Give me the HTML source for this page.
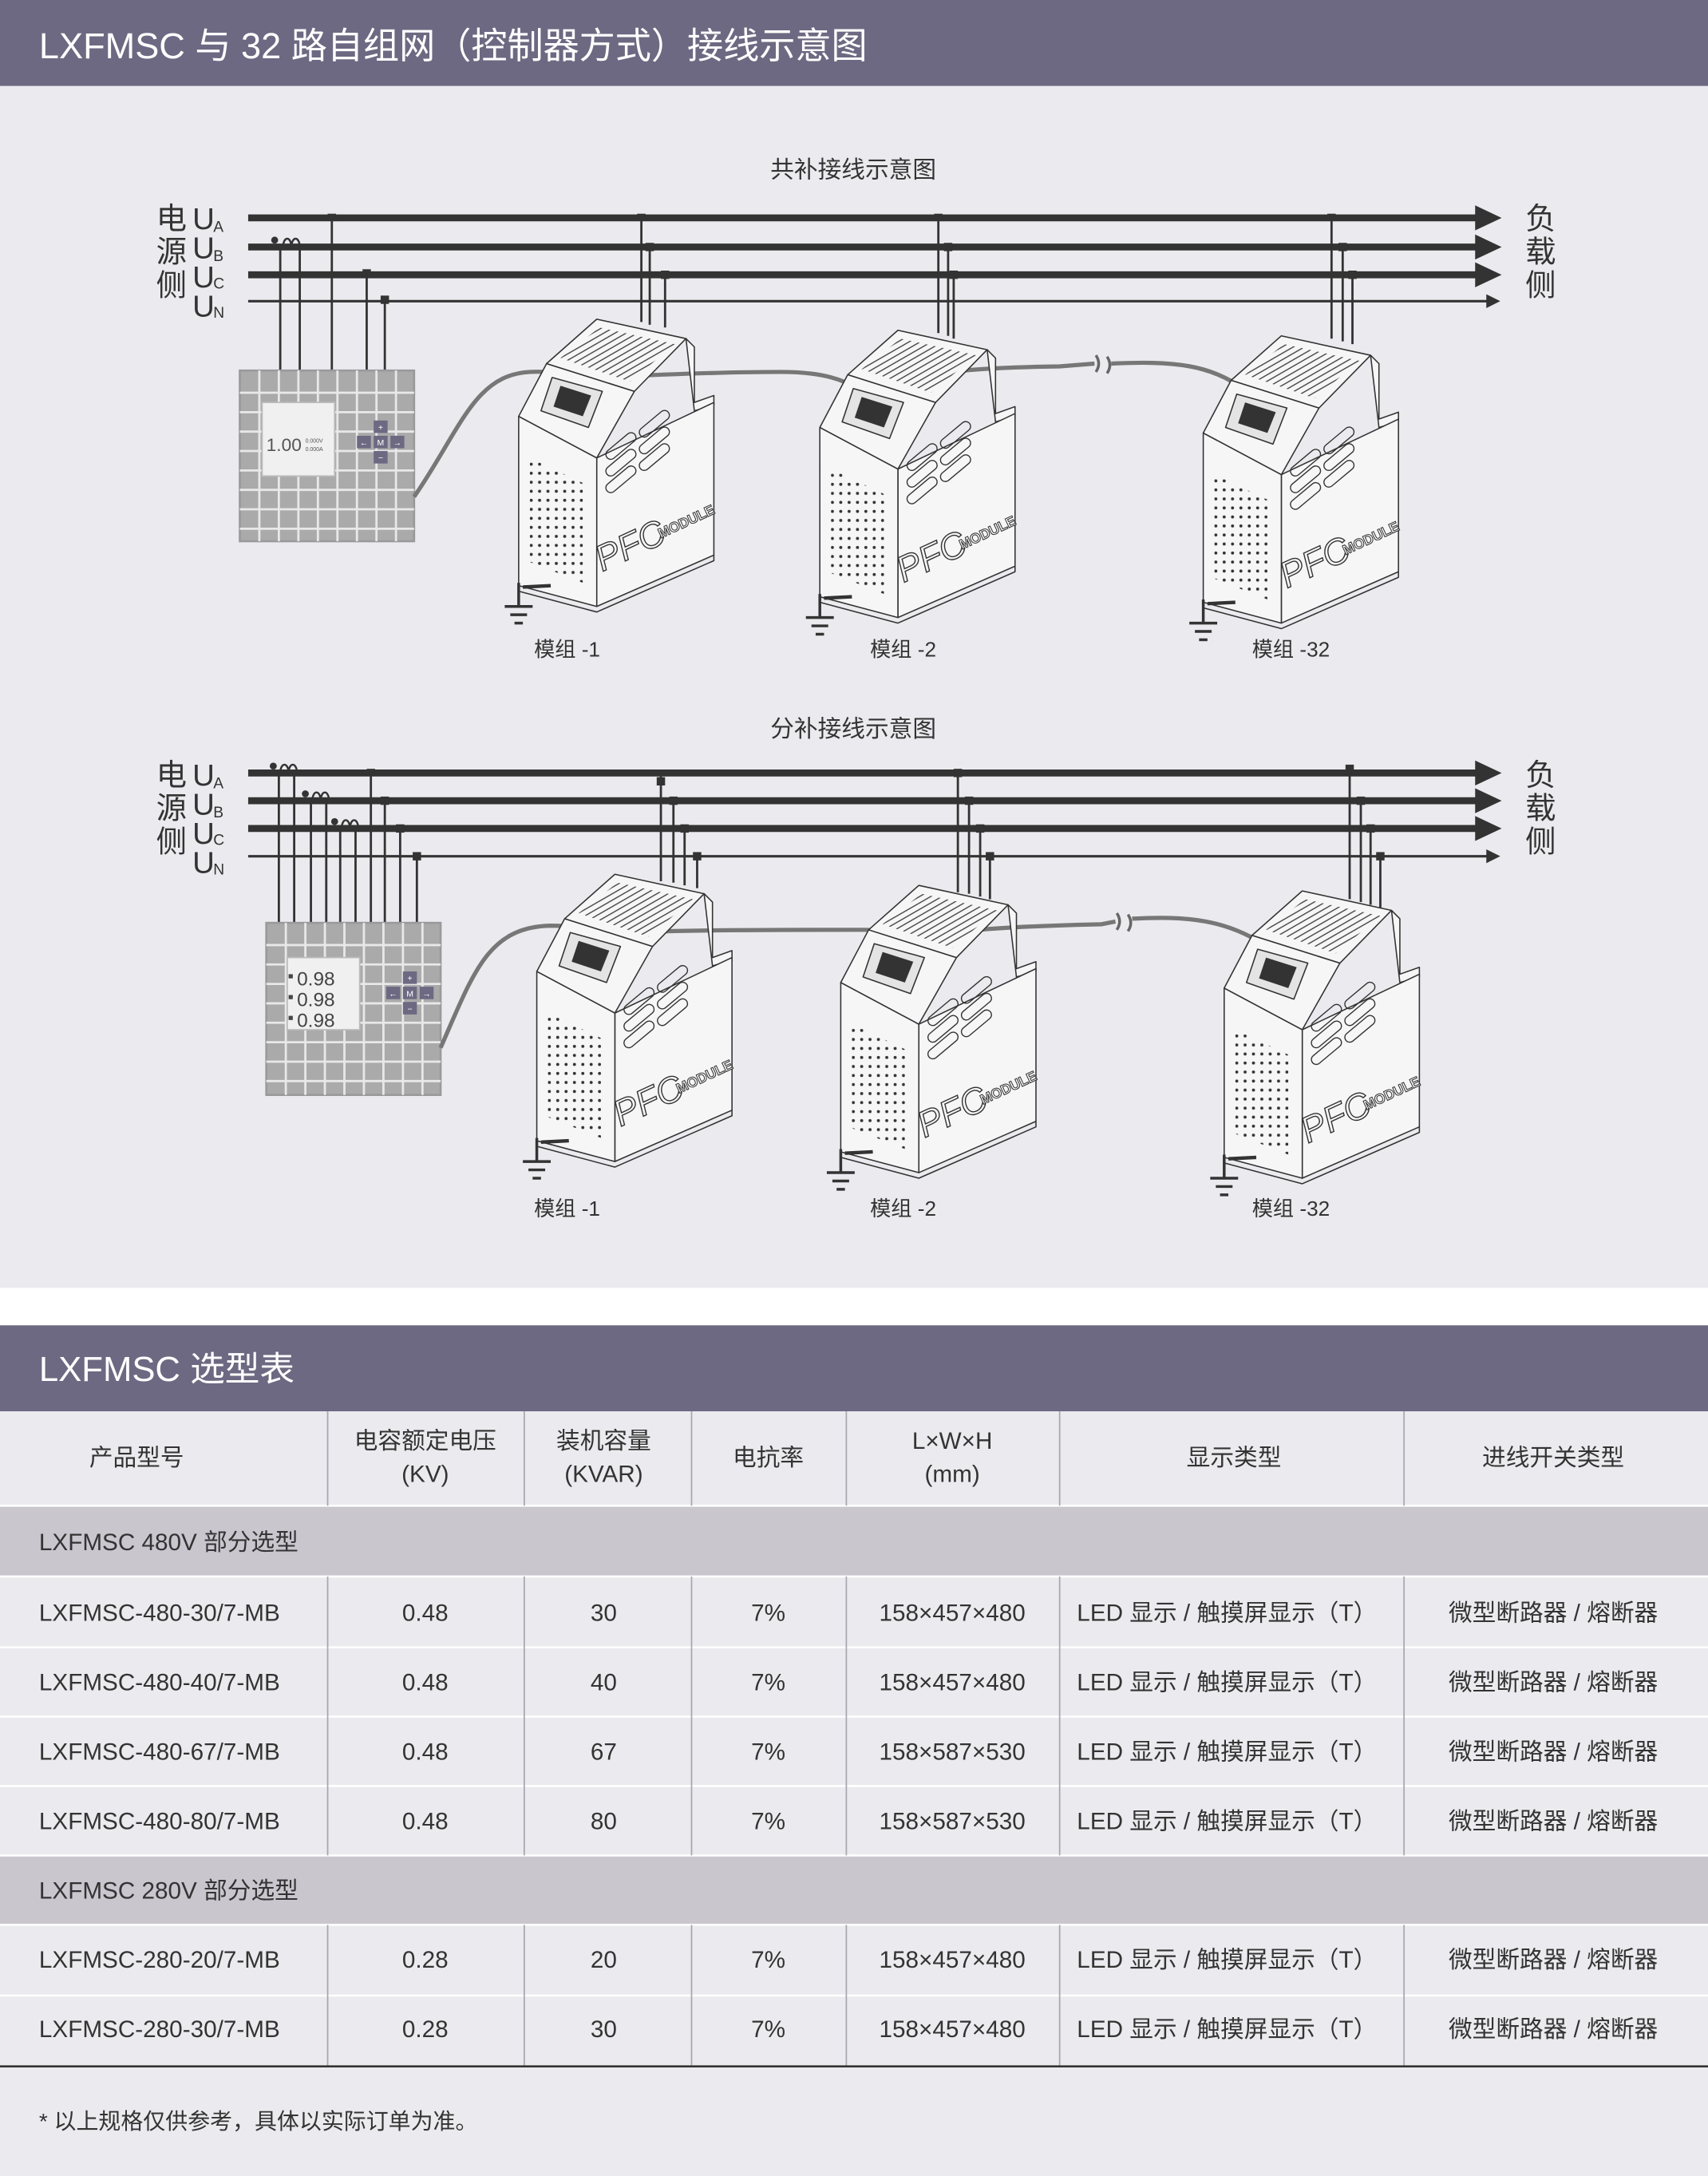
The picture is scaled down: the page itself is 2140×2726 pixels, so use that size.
<!DOCTYPE html>
<html><head><meta charset="utf-8"><style>
html,body{margin:0;padding:0;background:#fff;}
svg{display:block;}
text{font-family:"Liberation Sans","Noto Sans CJK SC",sans-serif;}
</style></head><body>
<svg width="2140" height="2726" viewBox="0 0 1225 1568" preserveAspectRatio="none" xmlns="http://www.w3.org/2000/svg">
<defs>
<pattern id="dots" width="6" height="6.5" patternUnits="userSpaceOnUse"><circle cx="3" cy="3" r="1.1" fill="#333"/></pattern>
<pattern id="hatch" width="4" height="4" patternUnits="userSpaceOnUse" patternTransform="rotate(60)"><line x1="0" y1="0" x2="0" y2="4" stroke="#444" stroke-width="1.6"/></pattern>
<g id="mod" stroke="#333" stroke-width="0.9" fill="#f6f6f7" stroke-linejoin="round">
  <path d="M492,244 L498,250 L498,290 L512,285 L512,292 L498,296 Z"/>
  <path d="M428,330 L512,290 L512,400 L428,437 Z"/>
  <path d="M372,300 L428,330 L428,437 L372,422 Z"/>
  <path d="M380,330 L418,348 L418,420 L380,405 Z" fill="url(#dots)" stroke="none"/>
  <path d="M372,300 L392,262 L455,282 L428,330 Z"/>
  <path d="M392,262 L428,230 L492,244 L455,282 Z"/>
  <path d="M402,258 L430,236 L484,248 L452,275 Z" fill="url(#hatch)" stroke="none"/>
  <path d="M396,272 L432,282 L422,308 L388,296 Z" fill="#e4e4e4"/>
  <path d="M402,278 L424,285 L418,300 L397,293 Z" fill="#333" stroke="none"/>
  <path d="M372,422 L372,426 L428,441 L512,404 L512,400" fill="none"/>
  <g fill="none" stroke="#333" stroke-width="0.8">
   <rect x="432" y="318" width="26" height="7" rx="3.5" transform="rotate(-40 445 321)"/>
   <rect x="432" y="330" width="26" height="7" rx="3.5" transform="rotate(-40 445 333)"/>
   <rect x="432" y="342" width="26" height="7" rx="3.5" transform="rotate(-40 445 345)"/>
   <rect x="456" y="302" width="26" height="7" rx="3.5" transform="rotate(-40 469 305)"/>
   <rect x="456" y="314" width="26" height="7" rx="3.5" transform="rotate(-40 469 317)"/>
   <rect x="456" y="326" width="26" height="7" rx="3.5" transform="rotate(-40 469 329)"/>
  </g>
  <line x1="375" y1="423" x2="395" y2="422" stroke-width="2.5"/>
</g>
<g id="gnd" stroke="#333" fill="none">
  <line x1="372" y1="420" x2="372" y2="437" stroke-width="2"/>
  <line x1="362" y1="437" x2="382" y2="437" stroke-width="2"/>
  <line x1="366" y1="443" x2="378" y2="443" stroke-width="2"/>
  <line x1="369" y1="449" x2="375" y2="449" stroke-width="2"/>
</g>
</defs>

<rect x="0" y="0" width="1225" height="62" fill="#6e6982"/>
<rect x="0" y="62" width="1225" height="866" fill="#ebeaee"/>
<text x="28" y="42" font-size="26" fill="#fff" textLength="594" lengthAdjust="spacingAndGlyphs">LXFMSC 与 32 路自组网（控制器方式）接线示意图</text>

<text x="612" y="128" font-size="17" fill="#333" text-anchor="middle">共补接线示意图</text>
<g fill="#333" font-size="22">
<text x="112" y="165">电</text><text x="112" y="189">源</text><text x="112" y="213">侧</text>
<text x="1094" y="165">负</text><text x="1094" y="189">载</text><text x="1094" y="213">侧</text>
<text x="138" y="165">U</text><text x="138" y="186">U</text><text x="138" y="207">U</text><text x="138" y="228">U</text>
</g>
<g fill="#333" font-size="11"><text x="153" y="167">A</text><text x="153" y="188">B</text><text x="153" y="208">C</text><text x="153" y="229">N</text></g>
<g stroke="#333">
<line x1="178" y1="157" x2="1062" y2="157" stroke-width="5"/>
<line x1="178" y1="178" x2="1062" y2="178" stroke-width="5"/>
<line x1="178" y1="198" x2="1062" y2="198" stroke-width="5"/>
<line x1="178" y1="217" x2="1068" y2="217" stroke-width="1.8"/>
</g>
<g fill="#333">
<polygon points="1058,148 1077,157 1058,166"/><polygon points="1058,169 1077,178 1058,187"/><polygon points="1058,189 1077,198 1058,207"/><polygon points="1066,212 1076,217 1066,222"/>
</g>
<g stroke="#333" stroke-width="1.6" fill="none">
<line x1="201" y1="178" x2="201" y2="267"/><line x1="215" y1="178" x2="215" y2="267"/>
<path d="M203,178 a3,6 0 0 1 6,0 a3,6 0 0 1 6,0" stroke-width="1.4"/>
<line x1="238" y1="157" x2="238" y2="267"/><line x1="263" y1="198" x2="263" y2="267"/><line x1="276" y1="217" x2="276" y2="267"/>
</g>
<circle cx="197" cy="173" r="2.5" fill="#333"/>
<g fill="#333"><rect x="235" y="154" width="6" height="5"/><rect x="260" y="194" width="6" height="6"/><rect x="273" y="213" width="6" height="6"/></g>
<g stroke="#333" stroke-width="1.6">
<line x1="460" y1="157" x2="460" y2="232"/><line x1="466" y1="178" x2="466" y2="234"/><line x1="477" y1="198" x2="477" y2="236"/>
<line x1="673" y1="157" x2="673" y2="240"/><line x1="680" y1="178" x2="680" y2="242"/><line x1="684" y1="198" x2="684" y2="244"/>
<line x1="955" y1="157" x2="955" y2="244"/><line x1="963" y1="178" x2="963" y2="246"/><line x1="970" y1="198" x2="970" y2="248"/>
</g>
<g fill="#333"><rect x="457" y="154" width="6" height="5"/><rect x="463" y="175" width="6" height="6"/><rect x="474" y="195" width="6" height="6"/>
<rect x="670" y="154" width="6" height="5"/><rect x="677" y="175" width="6" height="6"/><rect x="681" y="195" width="6" height="6"/>
<rect x="952" y="154" width="6" height="5"/><rect x="960" y="175" width="6" height="6"/><rect x="967" y="195" width="6" height="6"/></g>
<g>
<rect x="172" y="267" width="125" height="123" fill="#aaa" stroke="#999" stroke-width="1.5"/>
<g stroke="#e8e8e8" stroke-width="1.6">
<line x1="172" y1="283" x2="297" y2="283"/><line x1="172" y1="297" x2="297" y2="297"/><line x1="172" y1="311" x2="297" y2="311"/><line x1="172" y1="325" x2="297" y2="325"/><line x1="172" y1="339" x2="297" y2="339"/><line x1="172" y1="353" x2="297" y2="353"/><line x1="172" y1="367" x2="297" y2="367"/><line x1="172" y1="381" x2="297" y2="381"/>
<line x1="186" y1="267" x2="186" y2="390"/><line x1="200" y1="267" x2="200" y2="390"/><line x1="214" y1="267" x2="214" y2="390"/><line x1="228" y1="267" x2="228" y2="390"/><line x1="242" y1="267" x2="242" y2="390"/><line x1="256" y1="267" x2="256" y2="390"/><line x1="270" y1="267" x2="270" y2="390"/><line x1="284" y1="267" x2="284" y2="390"/>
</g>
<rect x="188" y="290" width="52" height="53" fill="#f0f0f0" stroke="#bbb"/>
<text x="191" y="325" font-size="13" fill="#555">1.00</text>
<text x="219" y="319" font-size="4" fill="#555">0.000V</text><text x="219" y="325" font-size="4" fill="#555">0.000A</text>
<g fill="#6e6982"><rect x="268" y="303" width="10" height="9"/><rect x="256" y="314" width="10" height="9"/><rect x="268" y="314" width="10" height="9"/><rect x="280" y="314" width="10" height="9"/><rect x="268" y="325" width="10" height="9"/></g>
<g fill="#fff" font-size="6" text-anchor="middle"><text x="273" y="310">+</text><text x="261" y="321">←</text><text x="273" y="321">M</text><text x="285" y="321">→</text><text x="273" y="332">−</text></g>
</g>
<path d="M297,358 C330,310 340,270 380,268 C400,267 410,272 430,272 C470,270 520,268 560,268 C600,268 610,278 620,282 C640,272 680,265 760,264 L785,262 M797,262 C840,260 870,262 895,283" fill="none" stroke="#777" stroke-width="3"/>
<path d="M786,256 q4,6 0,12 M794,257 q4,6 0,12" fill="none" stroke="#666" stroke-width="2"/>
<use href="#mod"/><use href="#gnd"/>
<use href="#mod" transform="translate(216,8)"/><use href="#gnd" transform="translate(216,8)"/>
<use href="#mod" transform="translate(491,12)"/><use href="#gnd" transform="translate(491,12)"/>
<g font-size="26" fill="none" stroke="#333" stroke-width="0.8" font-style="italic">
<text transform="translate(432,412) rotate(-25)">PFC</text>
<text transform="translate(648,420) rotate(-25)">PFC</text>
<text transform="translate(923,424) rotate(-25)">PFC</text>
</g>
<g font-size="10" fill="#fff" stroke="#333" stroke-width="0.6" font-weight="bold">
<text transform="translate(474,388) rotate(-25)">MODULE</text>
<text transform="translate(690,396) rotate(-25)">MODULE</text>
<text transform="translate(965,400) rotate(-25)">MODULE</text>
</g>
<g font-size="15" fill="#333">
<text x="383" y="473">模组 -1</text><text x="624" y="473">模组 -2</text><text x="898" y="473">模组 -32</text>
</g>

<text x="612" y="531" font-size="17" fill="#333" text-anchor="middle">分补接线示意图</text>
<g fill="#333" font-size="22">
<text x="112" y="566">电</text><text x="112" y="590">源</text><text x="112" y="614">侧</text>
<text x="1094" y="566">负</text><text x="1094" y="590">载</text><text x="1094" y="614">侧</text>
<text x="138" y="566">U</text><text x="138" y="587">U</text><text x="138" y="608">U</text><text x="138" y="629">U</text>
</g>
<g fill="#333" font-size="11"><text x="153" y="568">A</text><text x="153" y="589">B</text><text x="153" y="609">C</text><text x="153" y="630">N</text></g>
<g stroke="#333">
<line x1="178" y1="557" x2="1062" y2="557" stroke-width="5"/>
<line x1="178" y1="577" x2="1062" y2="577" stroke-width="5"/>
<line x1="178" y1="597" x2="1062" y2="597" stroke-width="5"/>
<line x1="178" y1="617" x2="1068" y2="617" stroke-width="1.8"/>
</g>
<g fill="#333">
<polygon points="1058,548 1077,557 1058,566"/><polygon points="1058,568 1077,577 1058,586"/><polygon points="1058,588 1077,597 1058,606"/><polygon points="1066,612 1076,617 1066,622"/>
</g>
<g stroke="#333" stroke-width="1.6" fill="none">
<line x1="200" y1="557" x2="200" y2="665"/><line x1="211" y1="557" x2="211" y2="665"/>
<line x1="223" y1="577" x2="223" y2="665"/><line x1="234" y1="577" x2="234" y2="665"/>
<line x1="244" y1="597" x2="244" y2="665"/><line x1="255" y1="597" x2="255" y2="665"/>
<line x1="266" y1="557" x2="266" y2="665"/><line x1="276" y1="577" x2="276" y2="665"/><line x1="287" y1="597" x2="287" y2="665"/><line x1="299" y1="617" x2="299" y2="665"/>
<path d="M201,557 a3,6 0 0 1 6,0 a3,6 0 0 1 6,0" stroke-width="1.4"/>
<path d="M224,577 a3,6 0 0 1 6,0 a3,6 0 0 1 6,0" stroke-width="1.4"/>
<path d="M245,597 a3,6 0 0 1 6,0 a3,6 0 0 1 6,0" stroke-width="1.4"/>
</g>
<g fill="#333"><circle cx="196" cy="552" r="2.5"/><circle cx="219" cy="572" r="2.5"/><circle cx="240" cy="592" r="2.5"/>
<rect x="263" y="554" width="6" height="5"/><rect x="273" y="574" width="6" height="6"/><rect x="284" y="594" width="6" height="6"/><rect x="296" y="614" width="6" height="6"/></g>
<g stroke="#333" stroke-width="1.6">
<line x1="474" y1="557" x2="474" y2="635"/><line x1="483" y1="577" x2="483" y2="636"/><line x1="491" y1="597" x2="491" y2="638"/><line x1="500" y1="617" x2="500" y2="640"/>
<line x1="687" y1="557" x2="687" y2="643"/><line x1="695" y1="577" x2="695" y2="644"/><line x1="703" y1="597" x2="703" y2="646"/><line x1="710" y1="617" x2="710" y2="648"/>
<line x1="968" y1="557" x2="968" y2="648"/><line x1="976" y1="577" x2="976" y2="650"/><line x1="983" y1="597" x2="983" y2="652"/><line x1="990" y1="617" x2="990" y2="654"/>
</g>
<g fill="#333"><rect x="471" y="560" width="6" height="6"/><rect x="480" y="574" width="6" height="6"/><rect x="488" y="594" width="6" height="6"/><rect x="497" y="614" width="6" height="6"/>
<rect x="684" y="554" width="6" height="6"/><rect x="692" y="574" width="6" height="6"/><rect x="700" y="594" width="6" height="6"/><rect x="707" y="614" width="6" height="6"/>
<rect x="965" y="551" width="6" height="6"/><rect x="973" y="574" width="6" height="6"/><rect x="980" y="594" width="6" height="6"/><rect x="987" y="614" width="6" height="6"/></g>
<g>
<rect x="191" y="665" width="125" height="124" fill="#aaa" stroke="#999" stroke-width="1.5"/>
<g stroke="#e8e8e8" stroke-width="1.6">
<line x1="191" y1="681" x2="316" y2="681"/><line x1="191" y1="695" x2="316" y2="695"/><line x1="191" y1="709" x2="316" y2="709"/><line x1="191" y1="723" x2="316" y2="723"/><line x1="191" y1="737" x2="316" y2="737"/><line x1="191" y1="751" x2="316" y2="751"/><line x1="191" y1="765" x2="316" y2="765"/><line x1="191" y1="779" x2="316" y2="779"/>
<line x1="205" y1="665" x2="205" y2="789"/><line x1="219" y1="665" x2="219" y2="789"/><line x1="233" y1="665" x2="233" y2="789"/><line x1="247" y1="665" x2="247" y2="789"/><line x1="261" y1="665" x2="261" y2="789"/><line x1="275" y1="665" x2="275" y2="789"/><line x1="289" y1="665" x2="289" y2="789"/><line x1="303" y1="665" x2="303" y2="789"/>
</g>
<rect x="206" y="690" width="52" height="52" fill="#f0f0f0" stroke="#bbb"/>
<g font-size="14" fill="#444"><text x="213" y="710">0.98</text><text x="213" y="725">0.98</text><text x="213" y="740">0.98</text></g>
<g fill="#444"><rect x="207" y="702" width="3" height="3"/><rect x="207" y="717" width="3" height="3"/><rect x="207" y="732" width="3" height="3"/></g>
<g fill="#6e6982"><rect x="289" y="700" width="10" height="9"/><rect x="277" y="711" width="10" height="9"/><rect x="289" y="711" width="10" height="9"/><rect x="301" y="711" width="10" height="9"/><rect x="289" y="722" width="10" height="9"/></g>
<g fill="#fff" font-size="6" text-anchor="middle"><text x="294" y="707">+</text><text x="282" y="718">←</text><text x="294" y="718">M</text><text x="306" y="718">→</text><text x="294" y="729">−</text></g>
</g>
<path d="M316,755 C340,700 350,668 395,667 C420,667 425,672 445,672 C500,670 560,670 620,670 C640,670 650,676 655,680 C670,672 700,668 790,666 L800,664 M812,662 C850,660 880,662 910,683" fill="none" stroke="#777" stroke-width="3"/>
<path d="M801,658 q4,6 0,12 M809,659 q4,6 0,12" fill="none" stroke="#666" stroke-width="2"/>
<use href="#mod" transform="translate(13,400)"/><use href="#gnd" transform="translate(13,400)"/>
<use href="#mod" transform="translate(231,408)"/><use href="#gnd" transform="translate(231,408)"/>
<use href="#mod" transform="translate(506,412)"/><use href="#gnd" transform="translate(506,412)"/>
<g font-size="26" fill="none" stroke="#333" stroke-width="0.8" font-style="italic">
<text transform="translate(445,812) rotate(-25)">PFC</text>
<text transform="translate(663,820) rotate(-25)">PFC</text>
<text transform="translate(938,824) rotate(-25)">PFC</text>
</g>
<g font-size="10" fill="#fff" stroke="#333" stroke-width="0.6" font-weight="bold">
<text transform="translate(487,788) rotate(-25)">MODULE</text>
<text transform="translate(705,796) rotate(-25)">MODULE</text>
<text transform="translate(980,800) rotate(-25)">MODULE</text>
</g>
<g font-size="15" fill="#333">
<text x="383" y="876">模组 -1</text><text x="624" y="876">模组 -2</text><text x="898" y="876">模组 -32</text>
</g>

<rect x="0" y="955" width="1225" height="62" fill="#6e6982"/>
<text x="28" y="995" font-size="25" fill="#fff">LXFMSC 选型表</text>
<rect x="0" y="1017" width="1225" height="551" fill="#ebeaee"/>
<rect x="0" y="1085" width="1225" height="51" fill="#c9c6ce"/>
<rect x="0" y="1337" width="1225" height="50" fill="#c9c6ce"/>
<g stroke="#fff" stroke-width="1.5">
<line x1="0" y1="1085" x2="1225" y2="1085"/><line x1="0" y1="1136" x2="1225" y2="1136"/><line x1="0" y1="1187" x2="1225" y2="1187"/><line x1="0" y1="1237" x2="1225" y2="1237"/><line x1="0" y1="1287" x2="1225" y2="1287"/><line x1="0" y1="1337" x2="1225" y2="1337"/><line x1="0" y1="1387" x2="1225" y2="1387"/><line x1="0" y1="1438" x2="1225" y2="1438"/>
</g>
<g stroke="#a9a6b0" stroke-width="1">
<line x1="235" y1="1017" x2="235" y2="1085"/><line x1="376" y1="1017" x2="376" y2="1085"/><line x1="496" y1="1017" x2="496" y2="1085"/><line x1="607" y1="1017" x2="607" y2="1085"/><line x1="760" y1="1017" x2="760" y2="1085"/><line x1="1007" y1="1017" x2="1007" y2="1085"/>
<line x1="235" y1="1136" x2="235" y2="1337"/><line x1="376" y1="1136" x2="376" y2="1337"/><line x1="496" y1="1136" x2="496" y2="1337"/><line x1="607" y1="1136" x2="607" y2="1337"/><line x1="760" y1="1136" x2="760" y2="1337"/><line x1="1007" y1="1136" x2="1007" y2="1337"/>
<line x1="235" y1="1387" x2="235" y2="1489"/><line x1="376" y1="1387" x2="376" y2="1489"/><line x1="496" y1="1387" x2="496" y2="1489"/><line x1="607" y1="1387" x2="607" y2="1489"/><line x1="760" y1="1387" x2="760" y2="1489"/><line x1="1007" y1="1387" x2="1007" y2="1489"/>
</g>
<line x1="0" y1="1489" x2="1225" y2="1489" stroke="#333" stroke-width="1.5"/>
<g font-size="17" fill="#333" text-anchor="middle">
<text x="98" y="1056">产品型号</text>
<text x="305" y="1044">电容额定电压</text><text x="305" y="1068">(KV)</text>
<text x="433" y="1044">装机容量</text><text x="433" y="1068">(KVAR)</text>
<text x="551" y="1056">电抗率</text>
<text x="683" y="1044">L×W×H</text><text x="683" y="1068">(mm)</text>
<text x="885" y="1056">显示类型</text>
<text x="1114" y="1056">进线开关类型</text>
</g>
<g font-size="17" fill="#333">
<text x="28" y="1117">LXFMSC  480V 部分选型</text>
<text x="28" y="1368">LXFMSC  280V 部分选型</text>
</g>
<g font-size="17" fill="#333">
<text x="28" y="1168">LXFMSC-480-30/7-MB</text>
<text x="28" y="1218">LXFMSC-480-40/7-MB</text>
<text x="28" y="1268">LXFMSC-480-67/7-MB</text>
<text x="28" y="1318">LXFMSC-480-80/7-MB</text>
<text x="28" y="1418">LXFMSC-280-20/7-MB</text>
<text x="28" y="1468">LXFMSC-280-30/7-MB</text>
</g>
<g font-size="17" fill="#333" text-anchor="middle">
<text x="305" y="1168">0.48</text><text x="433" y="1168">30</text><text x="551" y="1168">7%</text><text x="683" y="1168">158×457×480</text><text x="880" y="1168">LED 显示 / 触摸屏显示（T）</text><text x="1114" y="1168">微型断路器 / 熔断器</text>
<text x="305" y="1218">0.48</text><text x="433" y="1218">40</text><text x="551" y="1218">7%</text><text x="683" y="1218">158×457×480</text><text x="880" y="1218">LED 显示 / 触摸屏显示（T）</text><text x="1114" y="1218">微型断路器 / 熔断器</text>
<text x="305" y="1268">0.48</text><text x="433" y="1268">67</text><text x="551" y="1268">7%</text><text x="683" y="1268">158×587×530</text><text x="880" y="1268">LED 显示 / 触摸屏显示（T）</text><text x="1114" y="1268">微型断路器 / 熔断器</text>
<text x="305" y="1318">0.48</text><text x="433" y="1318">80</text><text x="551" y="1318">7%</text><text x="683" y="1318">158×587×530</text><text x="880" y="1318">LED 显示 / 触摸屏显示（T）</text><text x="1114" y="1318">微型断路器 / 熔断器</text>
<text x="305" y="1418">0.28</text><text x="433" y="1418">20</text><text x="551" y="1418">7%</text><text x="683" y="1418">158×457×480</text><text x="880" y="1418">LED 显示 / 触摸屏显示（T）</text><text x="1114" y="1418">微型断路器 / 熔断器</text>
<text x="305" y="1468">0.28</text><text x="433" y="1468">30</text><text x="551" y="1468">7%</text><text x="683" y="1468">158×457×480</text><text x="880" y="1468">LED 显示 / 触摸屏显示（T）</text><text x="1114" y="1468">微型断路器 / 熔断器</text>
</g>
<text x="28" y="1534" font-size="16" fill="#333">* 以上规格仅供参考，具体以实际订单为准。</text>
</svg>
</body></html>
